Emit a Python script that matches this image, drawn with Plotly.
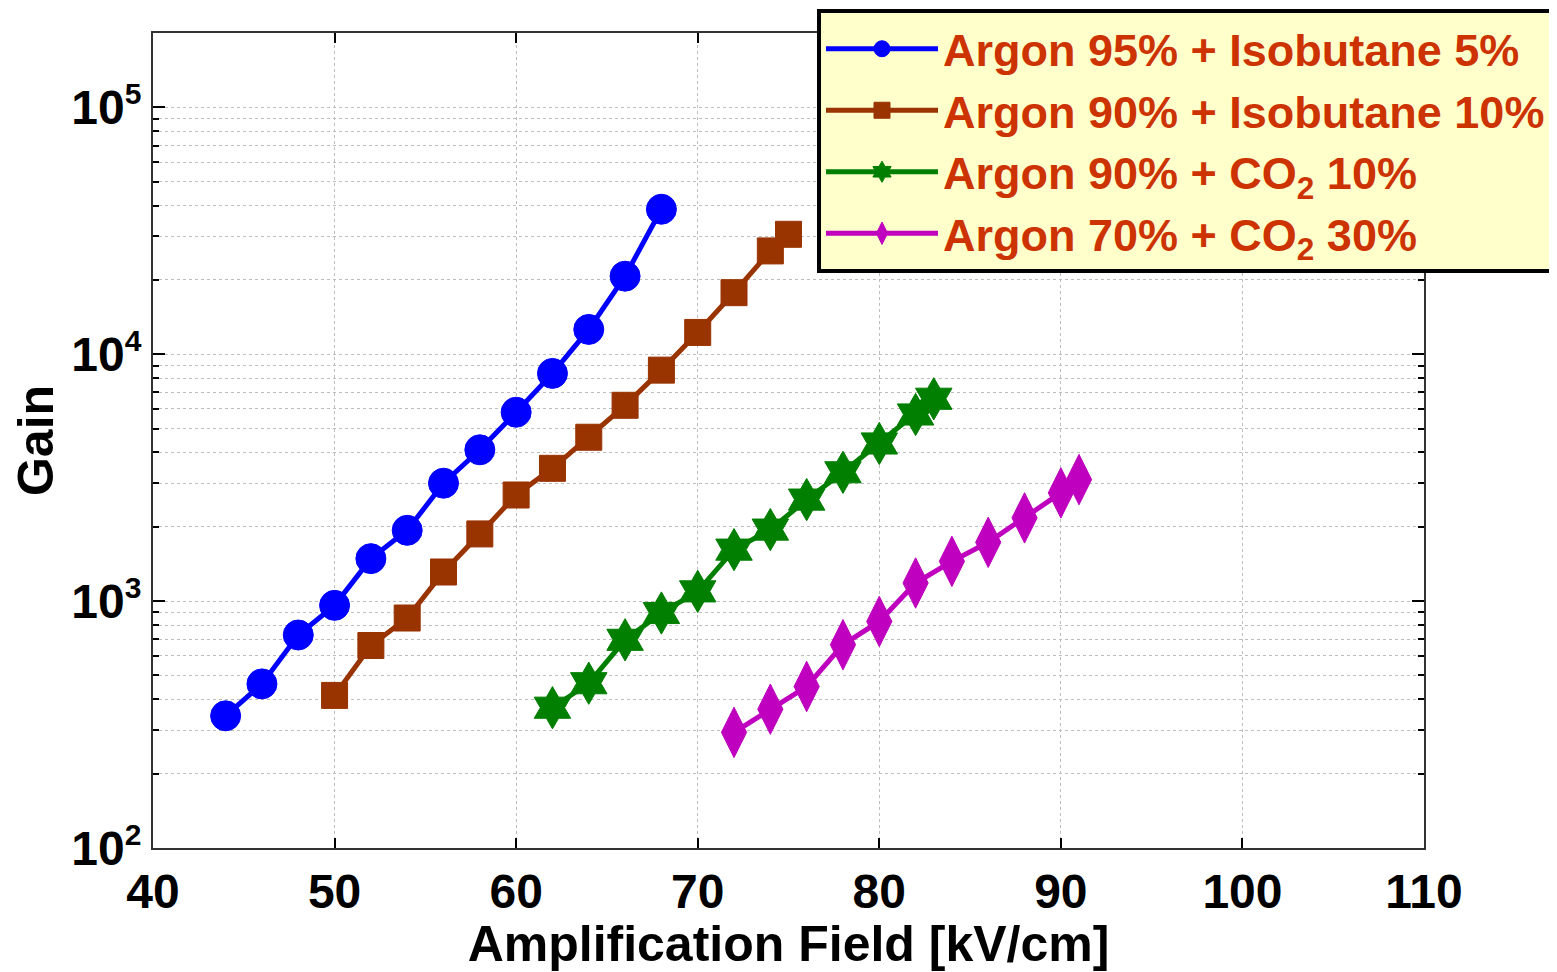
import plotly.graph_objects as go

# ---- data ----
field_ar95_ib5 = [44, 46, 48, 50, 52, 54, 56, 58, 60, 62, 64, 66, 68]
gain_ar95_ib5 = [343, 462, 729, 961, 1486, 1935, 3002, 4100, 5820, 8360, 12600, 20700, 38650]

field_ar90_ib10 = [50, 52, 54, 56, 58, 60, 62, 64, 66, 68, 70, 72, 74, 75]
gain_ar90_ib10 = [415, 661, 854, 1312, 1871, 2690, 3450, 4610, 6210, 8620, 12250, 17750, 26200, 30600]

field_ar90_co2 = [62, 64, 66, 68, 70, 72, 74, 76, 78, 80, 82, 83]
gain_ar90_co2 = [370, 465, 697, 895, 1095, 1616, 1948, 2577, 3325, 4350, 5700, 6600]

field_ar70_co2 = [72, 74, 76, 78, 80, 82, 84, 86, 88, 90, 91]
gain_ar70_co2 = [294, 365, 451, 666, 827, 1184, 1449, 1730, 2173, 2744, 3106]

series_names = [
    "Argon 95% + Isobutane 5%",
    "Argon 90% + Isobutane 10%",
    "Argon 90% + CO<sub>2</sub> 10%",
    "Argon 70% + CO<sub>2</sub> 30%",
]
series_colors = ["#0000FF", "#993300", "#007F00", "#BF00BF"]
series_symbols = ["circle", "square", "hexagram", "diamond-tall"]
series_sizes = [30, 26, 32, 36]

y_tick_vals = [100, 1000, 10000, 100000]
y_tick_text = ["10<sup><span style='font-size:30px'>%d</span></sup>" % e for e in [2, 3, 4, 5]]
x_tick_vals = [40, 50, 60, 70, 80, 90, 100, 110]

fields = [field_ar95_ib5, field_ar90_ib10, field_ar90_co2, field_ar70_co2]
gains = [gain_ar95_ib5, gain_ar90_ib10, gain_ar90_co2, gain_ar70_co2]

fig = go.Figure()
for xs, ys, name, col, sym, sz in zip(fields, gains, series_names, series_colors, series_symbols, series_sizes):
    fig.add_trace(go.Scatter(
        x=xs, y=ys, name=name, mode="lines+markers",
        line=dict(color=col, width=5),
        marker=dict(symbol=sym, size=sz, color=col, line=dict(color=col, width=1)),
    ))

minor_vals = [m * 10 ** d for d in range(2, 6) for m in range(2, 10)]

tick_font = dict(family="Liberation Sans, Arial", size=48, color="black", weight="bold")
title_font = dict(family="Liberation Sans, Arial", size=50, color="black", weight="bold")
grid_col = "#BEBEBE"

# page body has an 8px margin, so the figure is drawn 8px in from the top-left
fig_w, fig_h = 1549, 964
pl, pr, pt, pb = 145, 133, 25, 124
plot_w = fig_w - pl - pr
plot_h = fig_h - pt - pb

fig.update_layout(
    width=fig_w, height=fig_h,
    margin=dict(l=pl, r=pr, t=pt, b=pb, autoexpand=False),
    paper_bgcolor="white", plot_bgcolor="white",
    showlegend=True,
    legend=dict(
        x=(809 - pl) / plot_w, y=(plot_h + pt - 1) / plot_h, xanchor="left", yanchor="top",
        bgcolor="#FFFFCC", bordercolor="black", borderwidth=4,
        font=dict(family="Liberation Sans, Arial", size=45, color="#CC3300", weight="bold"),
        itemsizing="trace", itemwidth=112, tracegroupgap=0,
    ),
    xaxis=dict(
        range=[40, 110], tickmode="array", tickvals=x_tick_vals,
        ticks="inside", ticklen=10, tickwidth=1.5, tickcolor="black",
        showline=True, linecolor="#333333", linewidth=2, mirror="allticks",
        showgrid=True, gridcolor=grid_col, griddash="dot", gridwidth=1,
        zeroline=False, automargin=False, ticklabelstandoff=0,
        tickfont=tick_font,
        title=dict(text="Amplification Field [kV/cm]", font=title_font, standoff=6),
    ),
    yaxis=dict(
        type="log", range=[2, 5.301],
        tickmode="array", tickvals=y_tick_vals, ticktext=y_tick_text,
        ticks="inside", ticklen=12, tickwidth=1.5, tickcolor="black",
        showline=True, linecolor="#333333", linewidth=2, mirror="allticks",
        showgrid=True, gridcolor=grid_col, griddash="dot", gridwidth=1,
        zeroline=False, automargin=False, ticklabelstandoff=0,
        tickfont=tick_font,
        minor=dict(tickmode="array", tickvals=minor_vals, ticks="inside", ticklen=6,
                   tickcolor="black", showgrid=True, gridcolor=grid_col, griddash="dot", gridwidth=1),
        title=dict(text="Gain", font=title_font, standoff=18),
    ),
)

fig.write_html("out.html")
